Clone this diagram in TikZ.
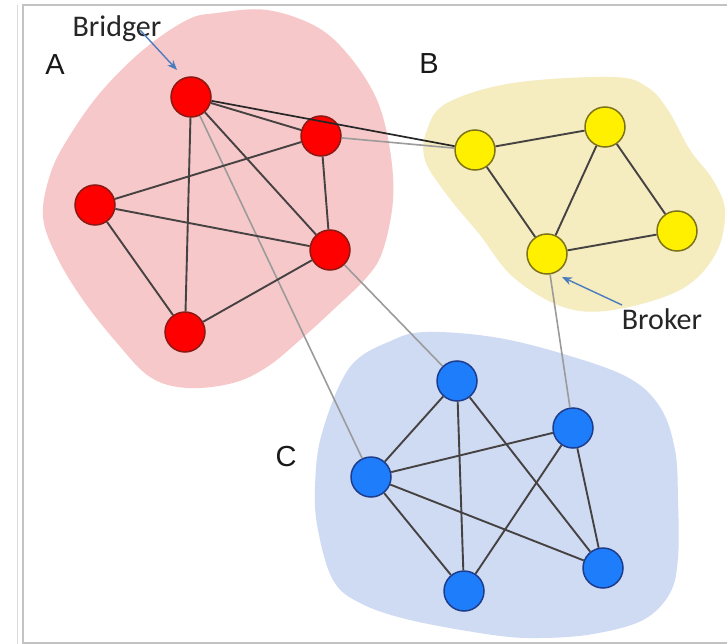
\documentclass[tikz,border=0pt]{standalone}
\usepackage{fontspec}
\setmainfont{Carlito}
\newfontfamily\letterfont{Liberation Sans}
\usetikzlibrary{arrows.meta}

\definecolor{blobred}{RGB}{247,200,202}
\definecolor{blobyellow}{RGB}{245,236,192}
\definecolor{blobblue}{RGB}{206,219,243}
\definecolor{nodered}{RGB}{255,0,0}
\definecolor{noderedline}{RGB}{140,25,20}
\definecolor{nodeyellow}{RGB}{255,240,0}
\definecolor{nodeyellowline}{RGB}{125,115,25}
\definecolor{nodeblue}{RGB}{30,125,250}
\definecolor{nodeblueline}{RGB}{30,60,140}
\definecolor{edgedark}{RGB}{70,66,66}
\definecolor{edgelight}{RGB}{155,155,155}
\definecolor{pointer}{RGB}{75,125,190}
\definecolor{framegray}{RGB}{195,195,195}

\begin{document}
\begin{tikzpicture}[x=1pt,y=-1pt,
  vertex/.style={circle,minimum size=40pt,inner sep=0pt,line width=1.5pt},
  redv/.style={vertex,fill=nodered,draw=noderedline},
  yellowv/.style={vertex,fill=nodeyellow,draw=nodeyellowline},
  bluev/.style={vertex,fill=nodeblue,draw=nodeblueline},
  inner/.style={draw=edgedark,line width=1.9pt},
  across/.style={draw=edgelight,line width=1.6pt},
  strong/.style={draw=black!85,line width=1.7pt},
  pointarrow/.style={draw=pointer,line width=1.4pt,-{Stealth[length=10pt,width=8pt]}},
  callout/.style={font=\fontsize{30}{30}\selectfont,text=black!85,inner sep=0pt},
  grouplabel/.style={font=\letterfont\fontsize{29}{29}\selectfont,text=black!90,inner sep=0pt}
]
\useasboundingbox (0,0) rectangle (727,644);
\fill[white] (0,0) rectangle (727,644);

% page frame
\draw[framegray!60,line width=1pt] (17,5) -- (17,644);
\draw[framegray,line width=1.6pt] (727,5) -- (23,5) -- (23,643) -- (727,643);

% community backgrounds
\fill[blobred] plot[smooth cycle,tension=0.6] coordinates {
  (217,13) (267,10) (317,27) (350,57) (377,100) (390,150) (393,200)
  (383,250) (367,277) (333,310) (300,340) (267,367) (233,383) (187,388)
  (150,377) (117,343) (83,300) (57,257) (43,217) (50,175) (67,140)
  (100,93) (143,50) (187,20)};
\fill[blobyellow] plot[smooth cycle,tension=0.6] coordinates {
  (427,130) (447,103) (513,83) (613,77) (647,87) (668,110) (690,150)
  (713,180) (725,212) (715,255) (680,290) (613,310) (563,307) (513,277)
  (480,235) (447,195) (425,160)};
\fill[blobblue] plot[smooth cycle,tension=0.6] coordinates {
  (427,332) (493,337) (560,353) (627,377) (660,407) (675,450) (678,500)
  (678,557) (670,593) (643,620) (593,634) (540,638) (493,635) (410,620)
  (360,603) (333,580) (318,530) (315,487) (322,433) (350,367) (393,340)};

% group labels
\node[grouplabel] (labA) at (55,65) {A};
\node[grouplabel] (labB) at (429,64) {B};
\node[grouplabel] (labC) at (286,457) {C};

% community A
\node[redv] (r1) at (191,97) {};
\node[redv] (r2) at (321,136) {};
\node[redv] (r3) at (95,205) {};
\node[redv] (r4) at (330,250) {};
\node[redv] (r5) at (185,332) {};

% community B
\node[yellowv] (y1) at (475,150) {};
\node[yellowv] (y2) at (605,127) {};
\node[yellowv] (y3) at (677,231) {};
\node[yellowv] (y4) at (547,254) {};

% community C
\node[bluev] (b1) at (457,381) {};
\node[bluev] (b2) at (573,428) {};
\node[bluev] (b3) at (371,477) {};
\node[bluev] (b4) at (464,591) {};
\node[bluev] (b5) at (603,568) {};

% ties between communities
\path[across] (r1) -- (b3);
\path[across] (r2) -- (y1);
\path[across] (r4) -- (b1);
\path[across] (y4) -- (b2);
\path[strong] (r1) -- (y1);

% ties within A
\path[inner] (r1) -- (r2);
\path[inner] (r1) -- (r4);
\path[inner] (r1) -- (r5);
\path[inner] (r2) -- (r3);
\path[inner] (r2) -- (r4);
\path[inner] (r3) -- (r4);
\path[inner] (r3) -- (r5);
\path[inner] (r4) -- (r5);

% ties within B
\path[inner] (y1) -- (y2);
\path[inner] (y1) -- (y4);
\path[inner] (y2) -- (y4);
\path[inner] (y2) -- (y3);
\path[inner] (y3) -- (y4);

% ties within C
\path[inner] (b1) -- (b3);
\path[inner] (b1) -- (b4);
\path[inner] (b1) -- (b5);
\path[inner] (b2) -- (b3);
\path[inner] (b2) -- (b4);
\path[inner] (b2) -- (b5);
\path[inner] (b3) -- (b4);
\path[inner] (b3) -- (b5);

% callouts
\node[callout] (bridger) at (117,29) {Bridger};
\node[callout] (broker) at (662,319) {Broker};
\coordinate (bridgerTail) at (140,30);
\coordinate (bridgerHead) at (177,70);
\coordinate (brokerTail) at (622,305);
\coordinate (brokerHead) at (562,277);
\draw[pointarrow] (bridgerTail) -- (bridgerHead);
\draw[pointarrow] (brokerTail) -- (brokerHead);
\end{tikzpicture}
\end{document}
